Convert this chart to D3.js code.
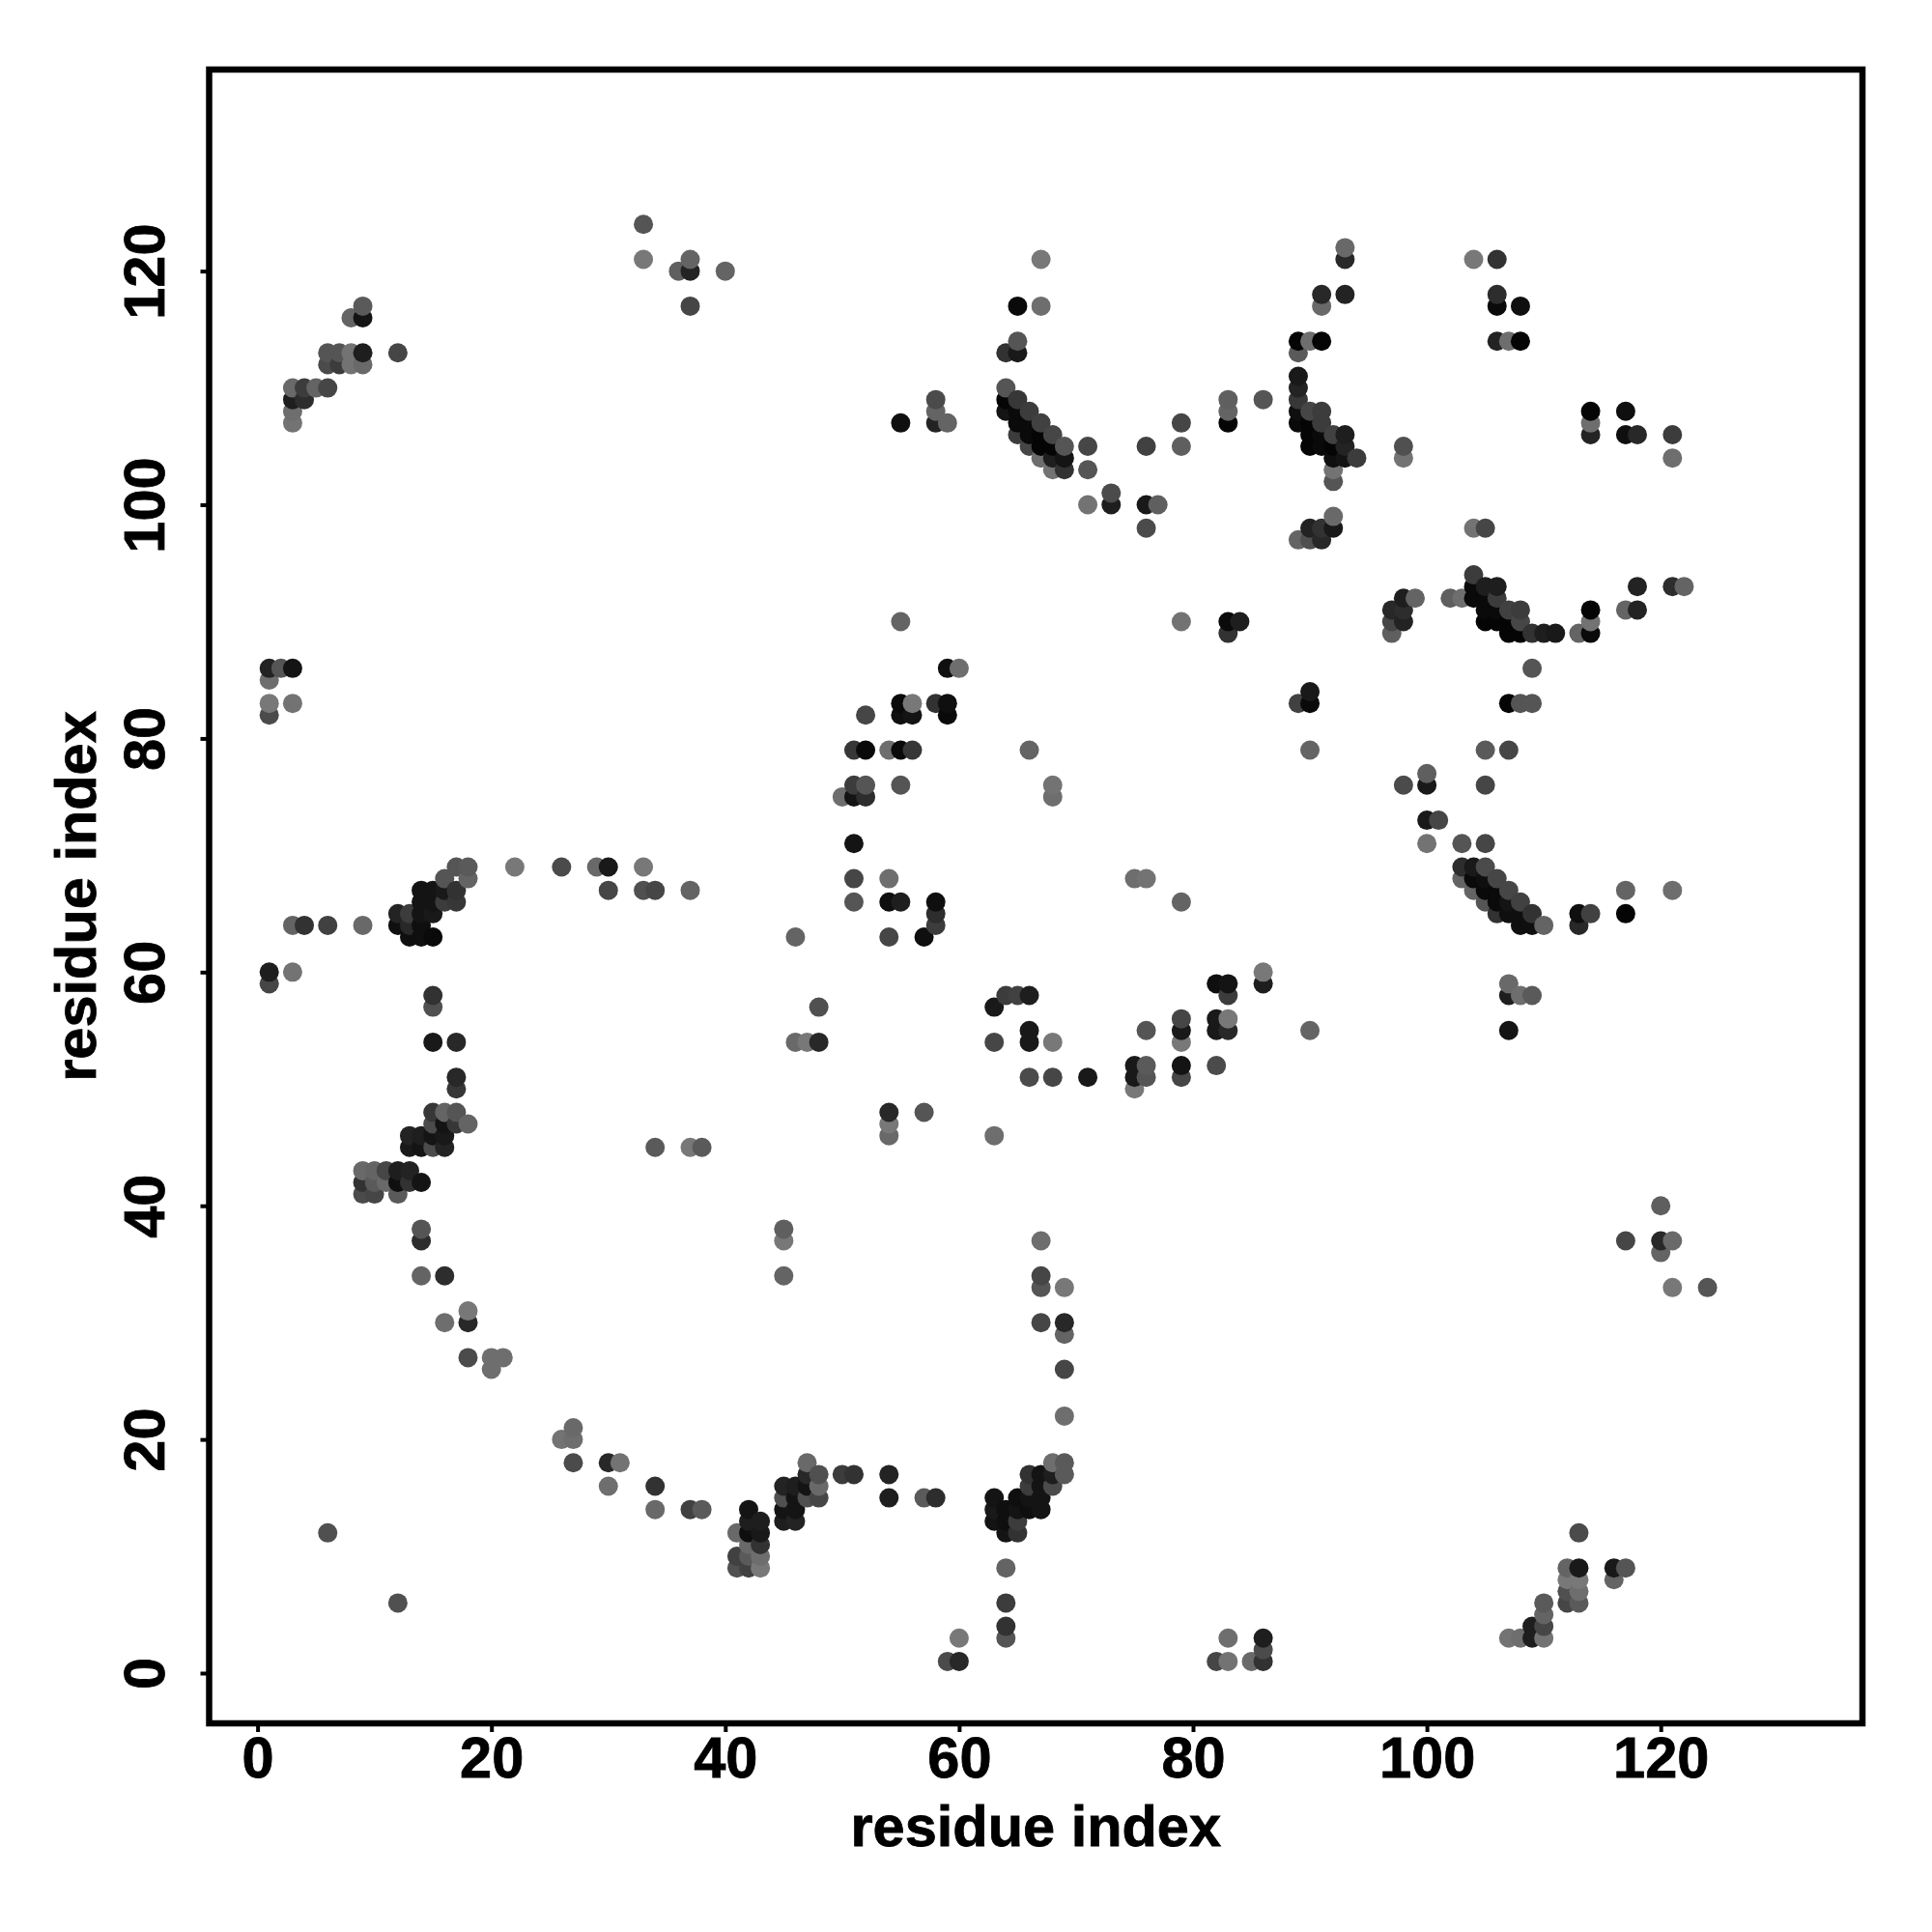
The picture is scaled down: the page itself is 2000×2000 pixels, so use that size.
<!DOCTYPE html>
<html><head><meta charset="utf-8">
<script src="https://cdn.jsdelivr.net/npm/d3@7"></script>
<style>html,body{margin:0;background:#fff}svg{display:block}text{font-family:"Liberation Sans",Arial,sans-serif;font-weight:700;fill:#000;stroke:#000;stroke-width:0.8px}</style>
</head><body><svg id="c" width="2000" height="2000"></svg>
<script>
const xTicks=[0,20,40,60,80,100,120];
const yTicks=[0,20,40,60,80,100,120];
const xLabel="residue index", yLabel="residue index";
// each contact: [residue x, residue y, grey level]
const lowerLeft=[[1,60,30],[1,59,70],[3,60,115],[15,58,50],[15,57,80],[15,54,25],[17,54,40],[17,51,40],[17,50,55],[15,48,55],[16,48,100],[17,48,85],[15,47,75],[16,47,20],[17,47,55],[18,47,100],[13,46,35],[14,46,30],[15,46,20],[16,46,25],[13,45,25],[14,45,20],[15,45,75],[16,45,35],[9,43,105],[10,43,100],[11,43,70],[12,43,30],[13,43,35],[9,42,50],[10,42,90],[11,42,105],[12,42,15],[13,42,50],[14,42,20],[9,41,75],[10,41,70],[12,41,90],[14,38,85],[14,37,45],[14,34,100],[16,34,45],[16,30,110],[18,31,120],[18,30,40],[18,27,75],[20,27,110],[21,27,110],[20,26,110],[26,20,115],[27,21,105],[27,20,110],[27,18,75],[30,18,40],[31,18,115],[30,16,110],[34,16,50],[34,14,105],[37,14,65],[38,14,90],[6,12,80],[12,6,80]];
const lowerMiddle=[[41,12,105],[42,14,20],[42,13,30],[43,13,30],[42,12,15],[43,12,25],[42,11,105],[43,11,50],[41,10,65],[42,10,90],[43,10,110],[41,9,80],[42,9,65],[43,9,120],[45,16,35],[46,16,30],[45,15,80],[46,15,20],[45,14,20],[46,14,20],[45,13,30],[46,13,35],[47,18,105],[47,17,40],[48,17,80],[47,16,20],[48,16,105],[47,15,80],[48,15,70],[50,17,60],[51,17,50],[54,17,35],[54,15,30],[57,15,90],[58,15,45],[59,1,75],[60,1,40],[60,3,120],[34,45,90],[37,45,120],[38,45,90],[48,57,80],[46,54,105],[47,54,120],[48,54,40],[54,48,40],[57,48,85],[54,47,120],[54,46,105],[45,38,95],[45,37,120],[45,34,100]];
const middleBand=[[63,57,25],[64,58,60],[65,58,65],[66,58,30],[63,54,70],[66,55,25],[66,54,25],[68,54,120],[66,51,75],[68,51,70],[71,51,25],[75,52,25],[76,52,90],[75,51,25],[76,51,85],[75,50,120],[76,55,85],[79,56,70],[79,55,25],[79,54,120],[79,52,20],[79,51,70],[82,59,15],[83,59,20],[83,58,60],[82,56,25],[83,56,120],[82,55,25],[83,55,40],[82,52,75],[86,60,120],[86,59,30],[90,55,100],[63,46,110],[107,59,105],[107,58,30],[108,58,110],[109,58,90],[107,55,20]];
const lowerRight=[[67,37,110],[67,34,70],[67,33,85],[69,33,120],[67,30,70],[69,30,40],[69,29,100],[69,26,70],[69,22,110],[68,18,110],[69,18,90],[66,17,50],[67,17,20],[68,17,30],[69,17,90],[66,16,60],[67,16,20],[68,16,75],[63,15,20],[65,15,15],[66,15,20],[67,15,20],[63,14,25],[64,14,15],[65,14,20],[66,14,15],[67,14,20],[63,13,20],[64,13,15],[65,13,60],[64,12,20],[65,12,50],[64,9,100],[64,6,60],[64,4,50],[64,3,85],[83,3,110],[82,1,70],[83,1,115],[85,1,105],[86,3,30],[86,2,75],[86,1,50],[120,40,95],[117,37,70],[120,37,40],[121,37,105],[120,36,100],[121,33,120],[124,33,85],[113,12,75],[112,9,100],[113,9,25],[116,9,25],[117,9,85],[116,8,100],[112,8,120],[113,8,120],[112,7,80],[113,7,110],[112,6,70],[113,6,90],[110,6,90],[110,5,100],[110,4,70],[109,4,30],[107,3,115],[108,3,110],[109,3,30],[110,3,115]];
const upperLeft=[[33,124,85],[33,121,120],[36,120,95],[37,121,100],[37,120,35],[40,120,100],[37,117,70],[9,117,90],[8,116,100],[9,116,20],[6,113,85],[7,113,85],[8,113,115],[9,113,30],[12,113,70],[6,112,75],[7,112,60],[8,112,115],[9,112,105],[3,110,105],[4,110,60],[5,110,100],[6,110,70],[3,109,30],[4,109,45],[3,108,110],[3,107,115],[1,86,35],[2,86,85],[3,86,20],[1,85,110],[1,83,120],[3,83,115],[1,82,75],[3,64,100],[4,64,50],[6,64,65],[9,64,105],[12,65,35],[13,65,60],[12,64,15],[13,64,40],[14,64,15],[13,63,15],[14,63,15],[15,63,10],[14,67,20],[15,67,20],[14,66,20],[15,66,20],[16,67,25],[16,66,60],[17,66,55],[14,65,20],[15,65,25],[17,67,50],[16,68,85],[17,69,85],[18,69,90],[18,68,100],[22,69,120],[26,69,75],[29,69,105],[30,69,25],[33,69,120],[30,67,70],[33,67,80],[34,67,70],[37,67,100]];
const upperMiddle=[[55,90,100],[59,86,15],[60,86,110],[55,83,10],[56,83,120],[58,83,50],[59,83,15],[55,82,15],[56,82,20],[59,82,10],[52,82,70],[51,79,55],[52,79,10],[54,79,110],[55,79,10],[56,79,55],[55,76,85],[51,76,60],[52,76,85],[50,75,110],[51,75,20],[52,75,45],[51,71,20],[51,68,70],[54,68,110],[51,66,85],[54,66,15],[55,66,30],[58,66,15],[58,65,45],[58,64,60],[54,63,70],[57,63,15],[46,63,100],[55,107,15],[58,109,75],[58,108,100],[58,107,35],[59,107,100],[66,79,100],[68,76,115],[68,75,110],[75,68,110],[76,68,115],[79,66,100]];
const upperArc=[[67,121,120],[65,117,10],[67,117,110],[65,114,85],[64,113,50],[65,113,25],[64,110,85],[64,109,5],[65,109,55],[64,108,20],[65,108,10],[66,108,60],[65,107,10],[66,107,10],[67,107,65],[65,106,60],[66,106,10],[67,106,5],[68,106,70],[66,105,70],[67,105,5],[68,105,5],[69,105,85],[67,104,110],[68,104,30],[69,104,20],[68,103,115],[69,103,50],[71,105,70],[71,103,85],[71,100,115],[73,101,75],[73,100,30],[76,105,65],[76,100,25],[77,100,95],[76,98,75],[79,107,70],[79,105,95],[79,90,115],[83,109,95],[83,108,100],[83,107,5],[83,90,10],[84,90,30],[83,89,50],[86,109,85]];
const upperBlock=[[89,114,5],[90,114,110],[91,114,5],[89,113,90],[91,118,40],[93,118,35],[91,117,105],[93,122,105],[93,121,40],[89,111,25],[89,110,35],[89,109,55],[89,108,15],[89,107,10],[90,108,70],[91,108,60],[91,107,60],[90,107,5],[90,106,5],[91,106,10],[92,106,65],[93,106,30],[90,105,5],[91,105,10],[92,105,5],[93,105,35],[92,104,15],[93,104,20],[94,104,60],[92,103,115],[92,102,85],[92,99,105],[92,98,25],[90,98,35],[91,98,50],[89,97,100],[90,97,80],[91,97,40],[98,105,80],[98,104,115],[90,84,25],[89,83,65],[90,83,10],[90,79,100]];
const upperRight=[[104,121,120],[106,121,50],[106,118,45],[106,117,10],[108,117,15],[106,114,35],[107,114,110],[108,114,5],[114,108,5],[114,107,110],[114,106,35],[117,108,15],[117,106,15],[118,106,40],[121,106,60],[121,104,110],[104,98,115],[105,98,70],[118,93,35],[121,93,45],[122,93,100],[117,91,100],[118,91,35],[114,91,5],[114,90,115],[113,89,100],[114,89,10],[104,94,60],[104,93,10],[105,93,30],[106,93,30],[104,92,10],[105,92,10],[106,92,60],[105,91,10],[106,91,10],[107,91,65],[108,91,60],[105,90,5],[106,90,5],[107,90,5],[108,90,70],[107,89,5],[108,89,5],[109,89,50],[110,89,30],[111,89,25],[102,92,95],[103,92,110],[98,92,30],[99,92,100],[97,91,40],[98,91,45],[97,90,70],[98,90,35],[97,89,95],[109,86,85],[107,83,5],[108,83,85],[109,83,85]];
const rightArc=[[105,79,90],[107,79,70],[100,77,95],[100,76,25],[98,76,75],[105,76,70],[100,73,25],[101,73,70],[100,71,115],[103,71,85],[105,71,70],[103,69,45],[104,69,25],[105,69,75],[103,68,100],[104,68,10],[105,68,15],[106,68,70],[104,67,100],[105,67,10],[106,67,10],[107,67,70],[105,66,85],[106,66,10],[107,66,20],[108,66,65],[106,65,50],[107,65,15],[108,65,15],[109,65,50],[108,64,15],[109,64,15],[110,64,100],[113,65,15],[114,65,65],[113,64,40],[117,67,100],[117,65,5],[121,67,110]];

const contacts=[...lowerLeft,...lowerMiddle,...middleBand,...lowerRight,...upperLeft,...upperMiddle,...upperArc,...upperBlock,...upperRight,...rightArc]
  .map(([x,y,g])=>({x,y,g}))
  .sort((a,b)=>a.x-b.x||a.y-b.y);

const L=216.5,R=1928,T=72,B=1784;
const x=d3.scaleLinear().domain([-4.14,137.25]).range([L,R]);
const y=d3.scaleLinear().domain([-4.30,137.25]).range([B,T]);
const svg=d3.select("#c");

svg.append("g").selectAll("circle").data(contacts).join("circle")
  .attr("cx",d=>x(d.x)).attr("cy",d=>y(d.y)).attr("r",10)
  .attr("fill",d=>`rgb(${d.g},${d.g},${d.g})`);

const gx=svg.append("g").attr("transform",`translate(0,${B})`)
  .call(d3.axisBottom(x).tickValues(xTicks).tickFormat(d3.format("d")).tickSize(9).tickPadding(8));
const gy=svg.append("g").attr("transform",`translate(${L},0)`)
  .call(d3.axisLeft(y).tickValues(yTicks).tickFormat(d3.format("d")).tickSize(9).tickPadding(0));
[gx,gy].forEach(g=>{
  g.select(".domain").remove();
  g.selectAll("line").attr("stroke","#000").attr("stroke-width",4);
  g.selectAll("text").style("font-size","59.5px").style("font-family",'"Liberation Sans"').style("font-weight",700).attr("fill","#000");
});
gx.selectAll("text").attr("y",null).attr("dy",null).attr("text-anchor","middle")
  .attr("transform",`translate(0,${1839.5-B})`);
gy.selectAll("text").attr("x",null).attr("dy",null).attr("text-anchor","middle")
  .attr("transform",`translate(${170-L},0) rotate(-90)`);

svg.append("rect").attr("x",L).attr("y",T).attr("width",R-L).attr("height",B-T)
  .attr("fill","none").attr("stroke","#000").attr("stroke-width",6.5);

svg.append("text").attr("x",(L+R)/2).attr("y",1911).attr("text-anchor","middle")
  .style("font-size","59.5px").text(xLabel);
svg.append("text").attr("transform",`translate(99,${(T+B)/2}) rotate(-90)`).attr("text-anchor","middle")
  .style("font-size","59.5px").text(yLabel);
</script></body></html>
